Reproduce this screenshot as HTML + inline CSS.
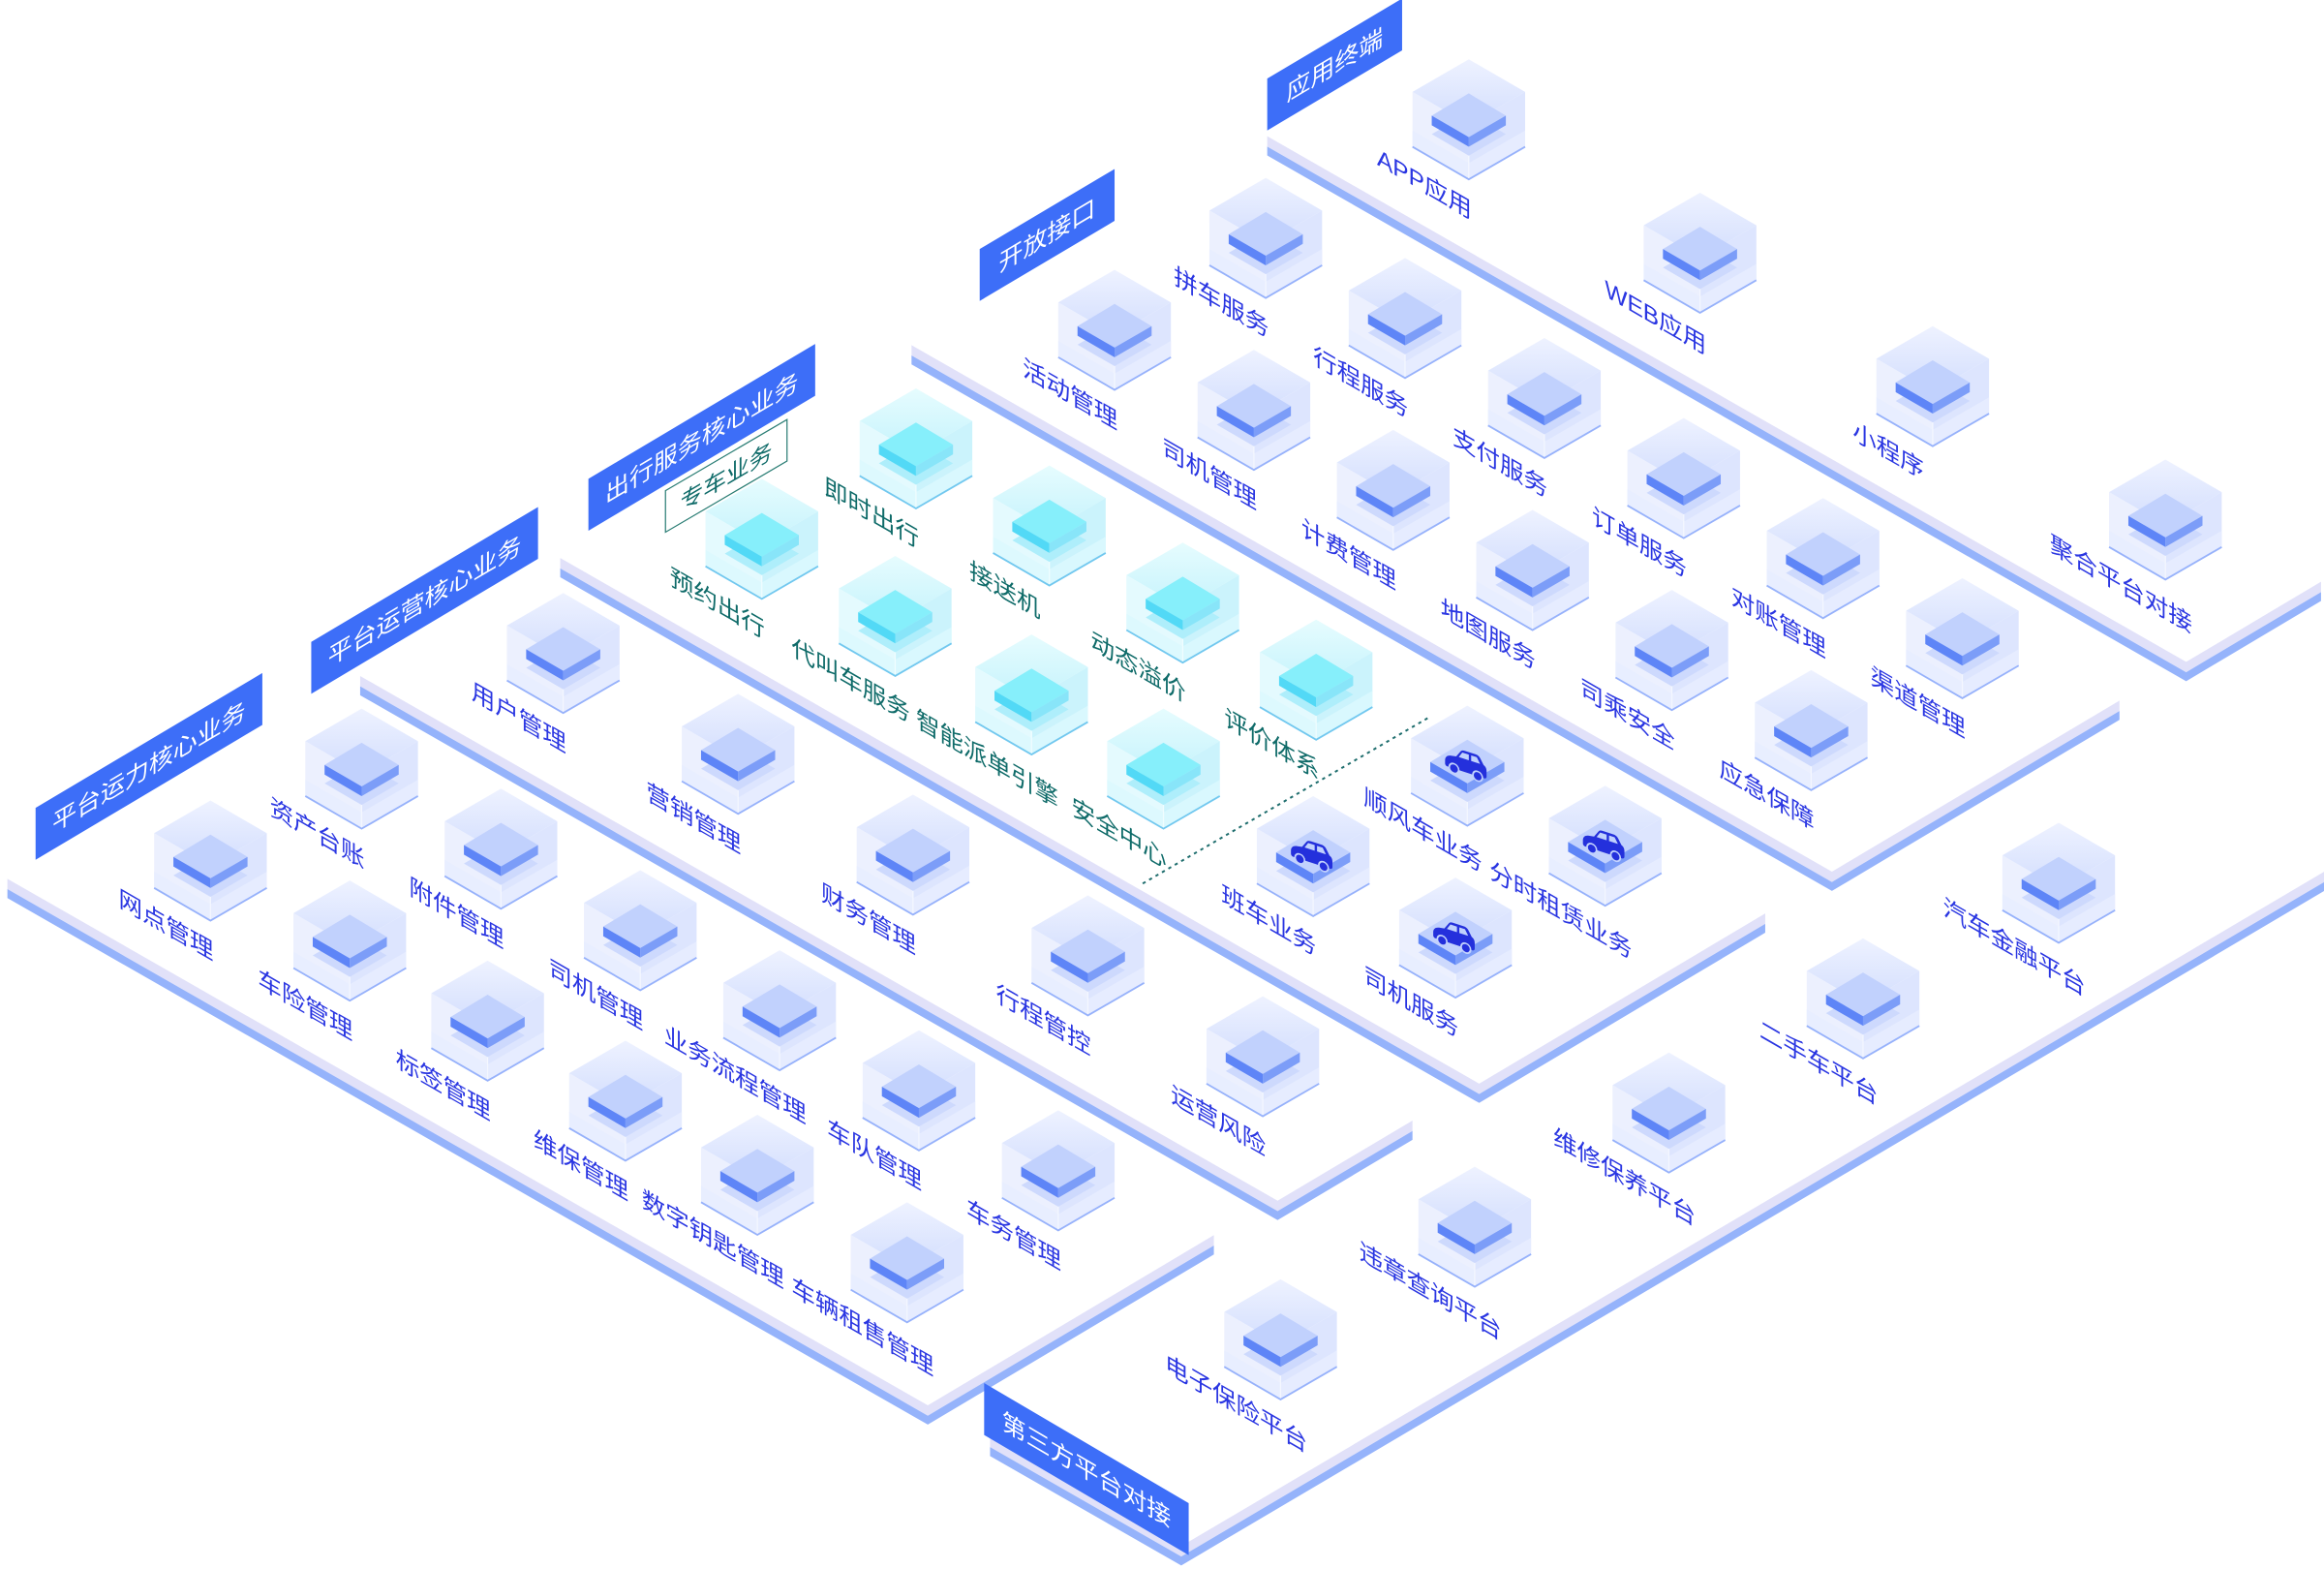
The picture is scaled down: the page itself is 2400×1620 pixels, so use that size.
<!DOCTYPE html>
<html><head><meta charset="utf-8">
<style>
html,body{margin:0;padding:0;background:#fff;}
svg{display:block}
.lb{font-family:"Liberation Sans","Noto Sans CJK SC",sans-serif;font-size:16px;fill:#2a36e2;}
.lt{font-family:"Liberation Sans","Noto Sans CJK SC",sans-serif;font-size:16px;fill:#0f6b69;}
.bn{font-family:"Liberation Sans","Noto Sans CJK SC",sans-serif;font-size:16.3px;fill:#ffffff;}
</style></head>
<body>
<svg width="2400" height="1620" viewBox="0 0 1568 1058.4" xmlns="http://www.w3.org/2000/svg" xmlns:xlink="http://www.w3.org/1999/xlink">
<defs>
<linearGradient id="gb" x1="0" y1="0" x2="0" y2="1"><stop offset="0" stop-color="#eef2ff"/><stop offset="1" stop-color="#d3defe"/></linearGradient>
<linearGradient id="gt" x1="0" y1="0" x2="0" y2="1"><stop offset="0" stop-color="#e6fcfe"/><stop offset="1" stop-color="#c6f3fc"/></linearGradient>
<g id="cb">
<path d="M0,0L38,22L0,44L-38,22Z" fill="url(#gb)"/>
<path d="M-38,22L0,44L0,81L-38,59Z" fill="#ecf0fe"/>
<path d="M0,44L38,22L38,59L0,81Z" fill="#dde5fe"/>
<path d="M-38,48L0,70L38,48L38,59L0,81L-38,59Z" fill="#e7edff" opacity=".85"/>
<path d="M0,44L0,81" stroke="#f4f7ff" stroke-width=".8"/>
<path d="M0,36L25,50.5L0,65L-25,50.5Z" fill="#cdd9fd"/>
<path d="M0,23L25,38L0,52.5L-25,38Z" fill="#c1d1fd"/>
<path d="M-25,38L0,52.5L0,59L-25,44.5Z" fill="#5e85f7"/>
<path d="M0,52.5L25,38L25,44.5L0,59Z" fill="#7c9df8"/>
<path d="M-38,59L0,81L38,59" fill="none" stroke="#97b2fb" stroke-width="1.2"/>
</g>
<g id="ct">
<path d="M0,0L38,22L0,44L-38,22Z" fill="url(#gt)"/>
<path d="M-38,22L0,44L0,81L-38,59Z" fill="#e4fafe"/>
<path d="M0,44L38,22L38,59L0,81Z" fill="#cbf3fc"/>
<path d="M-38,48L0,70L38,48L38,59L0,81L-38,59Z" fill="#dcf8fe" opacity=".85"/>
<path d="M0,44L0,81" stroke="#f0fdff" stroke-width=".8"/>
<path d="M0,36L25,50.5L0,65L-25,50.5Z" fill="#aeeefb"/>
<path d="M0,23L25,38L0,52.5L-25,38Z" fill="#86effb"/>
<path d="M-25,38L0,52.5L0,59L-25,44.5Z" fill="#52d9f6"/>
<path d="M0,52.5L25,38L25,44.5L0,59Z" fill="#88e5f9"/>
<path d="M-38,59L0,81L38,59" fill="none" stroke="#72c8ef" stroke-width="1.2"/>
</g>
<g id="car">
<path d="M-14,2.5C-14,0 -12.5,-1.5 -10,-2L-6.5,-2.6L-3.5,-7C-2.8,-8 -2,-8.3 -0.5,-8.3L6.5,-8.3C8,-8.3 9,-7.8 9.8,-6.5L12,-2.8C13.5,-2.2 14,-1 14,1L14,4.5C14,5.3 13.3,6 12.5,6L-12.5,6C-13.3,6 -14,5.3 -14,4.5Z" fill="#2430dc"/>
<path d="M-4.8,-2.8L-2.4,-6.6L2,-6.6L2,-2.8Z M3.6,-2.8L3.6,-6.6L7.4,-6.6L9.6,-2.8Z" fill="#c1d1fd"/>
<circle cx="-8" cy="6" r="3.2" fill="#2430dc" stroke="#c1d1fd" stroke-width="1.1"/>
<circle cx="8" cy="6" r="3.2" fill="#2430dc" stroke="#c1d1fd" stroke-width="1.1"/>
</g>
<g id="cc">
<use xlink:href="#cb"/>
<use xlink:href="#car" transform="translate(-1,39) skewY(18)"/>
</g>
</defs>

<!-- ===== P5 应用终端 ===== -->
<polygon points="855,91.9 1475,446.5 1566,392.4 1566,399.4 1475,453.5 855,98.9" fill="#e1e1f9"/>
<polygon points="855,98.9 1475,453.5 1566,399.4 1566,405.4 1475,459.5 855,104.9" fill="#95b3fb"/>
<polygon points="855,88 946,34 946,-1 855,53" fill="#3d6ef8"/>
<text class="bn" transform="translate(900.5,43.5) skewY(-30.75)" y="6" text-anchor="middle">应用终端</text>
<use xlink:href="#cb" x="991" y="40"/>
<use xlink:href="#cb" x="1147" y="130"/>
<use xlink:href="#cb" x="1304" y="220"/>
<use xlink:href="#cb" x="1461" y="310"/>
<text class="lb" transform="translate(961,123.5) skewY(30)" y="6" text-anchor="middle">APP应用</text>
<text class="lb" transform="translate(1117,213.5) skewY(30)" y="6" text-anchor="middle">WEB应用</text>
<text class="lb" transform="translate(1274,303.5) skewY(30)" y="6" text-anchor="middle">小程序</text>
<text class="lb" transform="translate(1431,393.5) skewY(30)" y="6" text-anchor="middle">聚合平台对接</text>

<!-- ===== P4 开放接口 ===== -->
<polygon points="615,232.8 1236,588 1430,472.6 1430,479.6 1236,595 615,239.8" fill="#e1e1f9"/>
<polygon points="615,239.8 1236,595 1430,479.6 1430,485.6 1236,601 615,245.8" fill="#95b3fb"/>
<polygon points="661,203 752,149 752,114 661,168" fill="#3d6ef8"/>
<text class="bn" transform="translate(706.5,158.5) skewY(-30.75)" y="6" text-anchor="middle">开放接口</text>
<use xlink:href="#cb" x="854" y="120"/>
<use xlink:href="#cb" x="948" y="174"/>
<use xlink:href="#cb" x="1042" y="228"/>
<use xlink:href="#cb" x="1136" y="282"/>
<use xlink:href="#cb" x="1230" y="336"/>
<use xlink:href="#cb" x="1324" y="390"/>
<use xlink:href="#cb" x="752" y="182"/>
<use xlink:href="#cb" x="846" y="236"/>
<use xlink:href="#cb" x="940" y="290"/>
<use xlink:href="#cb" x="1034" y="344"/>
<use xlink:href="#cb" x="1128" y="398"/>
<use xlink:href="#cb" x="1222" y="452"/>
<text class="lb" transform="translate(824,203.5) skewY(30)" y="6" text-anchor="middle">拼车服务</text>
<text class="lb" transform="translate(918,257.5) skewY(30)" y="6" text-anchor="middle">行程服务</text>
<text class="lb" transform="translate(1012,311.5) skewY(30)" y="6" text-anchor="middle">支付服务</text>
<text class="lb" transform="translate(1106,365.5) skewY(30)" y="6" text-anchor="middle">订单服务</text>
<text class="lb" transform="translate(1200,419.5) skewY(30)" y="6" text-anchor="middle">对账管理</text>
<text class="lb" transform="translate(1294,473.5) skewY(30)" y="6" text-anchor="middle">渠道管理</text>
<text class="lb" transform="translate(722,265.5) skewY(30)" y="6" text-anchor="middle">活动管理</text>
<text class="lb" transform="translate(816,319.5) skewY(30)" y="6" text-anchor="middle">司机管理</text>
<text class="lb" transform="translate(910,373.5) skewY(30)" y="6" text-anchor="middle">计费管理</text>
<text class="lb" transform="translate(1004,427.5) skewY(30)" y="6" text-anchor="middle">地图服务</text>
<text class="lb" transform="translate(1098,481.5) skewY(30)" y="6" text-anchor="middle">司乘安全</text>
<text class="lb" transform="translate(1192,535.5) skewY(30)" y="6" text-anchor="middle">应急保障</text>

<!-- ===== P3 出行服务核心业务 ===== -->
<polygon points="378,376.4 998,731 1191,616.2 1191,623.2 998,738 378,383.4" fill="#e1e1f9"/>
<polygon points="378,383.4 998,738 1191,623.2 1191,629.2 998,744 378,389.4" fill="#95b3fb"/>
<polygon points="397,358 550,267 550,232 397,323" fill="#3d6ef8"/>
<text class="bn" transform="translate(473.5,295) skewY(-30.75)" y="6" text-anchor="middle">出行服务核心业务</text>
<polygon points="449,331 531,283 531,311 449,359" fill="none" stroke="#2a7d74" stroke-width="0.8"/>
<text class="lt" style="font-size:15.5px" transform="translate(490,321) skewY(-30.4)" y="6" text-anchor="middle">专车业务</text>
<line x1="771" y1="596" x2="964" y2="484" stroke="#1f6e6e" stroke-width="1.3" stroke-dasharray="2.2 2.8"/>
<use xlink:href="#ct" x="618" y="262"/>
<use xlink:href="#ct" x="708" y="314"/>
<use xlink:href="#ct" x="798" y="366"/>
<use xlink:href="#ct" x="888" y="418"/>
<use xlink:href="#ct" x="514" y="323"/>
<use xlink:href="#ct" x="604" y="375"/>
<use xlink:href="#ct" x="696" y="428"/>
<use xlink:href="#ct" x="785" y="478"/>
<use xlink:href="#cc" x="990" y="476"/>
<use xlink:href="#cc" x="1083" y="530"/>
<use xlink:href="#cc" x="886" y="537"/>
<use xlink:href="#cc" x="982" y="592"/>
<text class="lt" transform="translate(588,345.5) skewY(30)" y="6" text-anchor="middle">即时出行</text>
<text class="lt" transform="translate(678,397.5) skewY(30)" y="6" text-anchor="middle">接送机</text>
<text class="lt" transform="translate(768,449.5) skewY(30)" y="6" text-anchor="middle">动态溢价</text>
<text class="lt" transform="translate(858,501.5) skewY(30)" y="6" text-anchor="middle">评价体系</text>
<text class="lt" transform="translate(484,406.5) skewY(30)" y="6" text-anchor="middle">预约出行</text>
<text class="lt" transform="translate(574,458.5) skewY(30)" y="6" text-anchor="middle">代叫车服务</text>
<text class="lt" transform="translate(666,511.5) skewY(30)" y="6" text-anchor="middle">智能派单引擎</text>
<text class="lt" transform="translate(755,561.5) skewY(30)" y="6" text-anchor="middle">安全中心</text>
<text class="lb" transform="translate(960,559.5) skewY(30)" y="6" text-anchor="middle">顺风车业务</text>
<text class="lb" transform="translate(1053,613.5) skewY(30)" y="6" text-anchor="middle">分时租赁业务</text>
<text class="lb" transform="translate(856,620.5) skewY(30)" y="6" text-anchor="middle">班车业务</text>
<text class="lb" transform="translate(952,675.5) skewY(30)" y="6" text-anchor="middle">司机服务</text>

<!-- ===== P2 平台运营核心业务 ===== -->
<polygon points="243,456 862,810 953,755.9 953,762.9 862,817 243,463" fill="#e1e1f9"/>
<polygon points="243,463 862,817 953,762.9 953,768.9 862,823 243,469" fill="#95b3fb"/>
<polygon points="210,468 363,377 363,342 210,433" fill="#3d6ef8"/>
<text class="bn" transform="translate(286.5,405) skewY(-30.75)" y="6" text-anchor="middle">平台运营核心业务</text>
<use xlink:href="#cb" x="380" y="400"/>
<use xlink:href="#cb" x="498" y="468"/>
<use xlink:href="#cb" x="616" y="536"/>
<use xlink:href="#cb" x="734" y="604"/>
<use xlink:href="#cb" x="852" y="672"/>
<text class="lb" transform="translate(350,483.5) skewY(30)" y="6" text-anchor="middle">用户管理</text>
<text class="lb" transform="translate(468,551.5) skewY(30)" y="6" text-anchor="middle">营销管理</text>
<text class="lb" transform="translate(586,619.5) skewY(30)" y="6" text-anchor="middle">财务管理</text>
<text class="lb" transform="translate(704,687.5) skewY(30)" y="6" text-anchor="middle">行程管控</text>
<text class="lb" transform="translate(822,755.5) skewY(30)" y="6" text-anchor="middle">运营风险</text>

<!-- ===== P1 平台运力核心业务 ===== -->
<polygon points="5,592.8 626,948 819,833.2 819,840.2 626,955 5,599.8" fill="#e1e1f9"/>
<polygon points="5,599.8 626,955 819,840.2 819,846.2 626,961 5,605.8" fill="#95b3fb"/>
<polygon points="24,580 177,489 177,454 24,545" fill="#3d6ef8"/>
<text class="bn" transform="translate(100.5,517) skewY(-30.75)" y="6" text-anchor="middle">平台运力核心业务</text>
<use xlink:href="#cb" x="244" y="478"/>
<use xlink:href="#cb" x="338" y="532"/>
<use xlink:href="#cb" x="432" y="587"/>
<use xlink:href="#cb" x="526" y="641"/>
<use xlink:href="#cb" x="620" y="695"/>
<use xlink:href="#cb" x="714" y="749"/>
<use xlink:href="#cb" x="142" y="540"/>
<use xlink:href="#cb" x="236" y="594"/>
<use xlink:href="#cb" x="329" y="648"/>
<use xlink:href="#cb" x="422" y="702"/>
<use xlink:href="#cb" x="511" y="752"/>
<use xlink:href="#cb" x="612" y="811"/>
<text class="lb" transform="translate(214,561.5) skewY(30)" y="6" text-anchor="middle">资产台账</text>
<text class="lb" transform="translate(308,615.5) skewY(30)" y="6" text-anchor="middle">附件管理</text>
<text class="lb" transform="translate(402,670.5) skewY(30)" y="6" text-anchor="middle">司机管理</text>
<text class="lb" transform="translate(496,724.5) skewY(30)" y="6" text-anchor="middle">业务流程管理</text>
<text class="lb" transform="translate(590,778.5) skewY(30)" y="6" text-anchor="middle">车队管理</text>
<text class="lb" transform="translate(684,832.5) skewY(30)" y="6" text-anchor="middle">车务管理</text>
<text class="lb" transform="translate(112,623.5) skewY(30)" y="6" text-anchor="middle">网点管理</text>
<text class="lb" transform="translate(206,677.5) skewY(30)" y="6" text-anchor="middle">车险管理</text>
<text class="lb" transform="translate(299,731.5) skewY(30)" y="6" text-anchor="middle">标签管理</text>
<text class="lb" transform="translate(392,785.5) skewY(30)" y="6" text-anchor="middle">维保管理</text>
<text class="lb" transform="translate(481,835.5) skewY(30)" y="6" text-anchor="middle">数字钥匙管理</text>
<text class="lb" transform="translate(582,894.5) skewY(30)" y="6" text-anchor="middle">车辆租售管理</text>

<!-- ===== P6 第三方平台对接 ===== -->
<polygon points="668,969.2 797,1043 1570,586.9 1570,593.9 797,1050 668,976.2" fill="#e1e1f9"/>
<polygon points="668,976.2 797,1050 1570,593.9 1570,599.9 797,1056 668,982.2" fill="#95b3fb"/>
<polygon points="664,933 802,1014 802,1049 664,968" fill="#3d6ef8"/>
<text class="bn" transform="translate(733,991) skewY(30.4)" y="6" text-anchor="middle">第三方平台对接</text>
<use xlink:href="#cb" x="864" y="863"/>
<use xlink:href="#cb" x="995" y="787"/>
<use xlink:href="#cb" x="1126" y="710"/>
<use xlink:href="#cb" x="1257" y="633"/>
<use xlink:href="#cb" x="1389" y="555"/>
<text class="lb" transform="translate(834,946.5) skewY(30)" y="6" text-anchor="middle">电子保险平台</text>
<text class="lb" transform="translate(965,870.5) skewY(30)" y="6" text-anchor="middle">违章查询平台</text>
<text class="lb" transform="translate(1096,793.5) skewY(30)" y="6" text-anchor="middle">维修保养平台</text>
<text class="lb" transform="translate(1227,716.5) skewY(30)" y="6" text-anchor="middle">二手车平台</text>
<text class="lb" transform="translate(1359,638.5) skewY(30)" y="6" text-anchor="middle">汽车金融平台</text>
</svg>
</body></html>
